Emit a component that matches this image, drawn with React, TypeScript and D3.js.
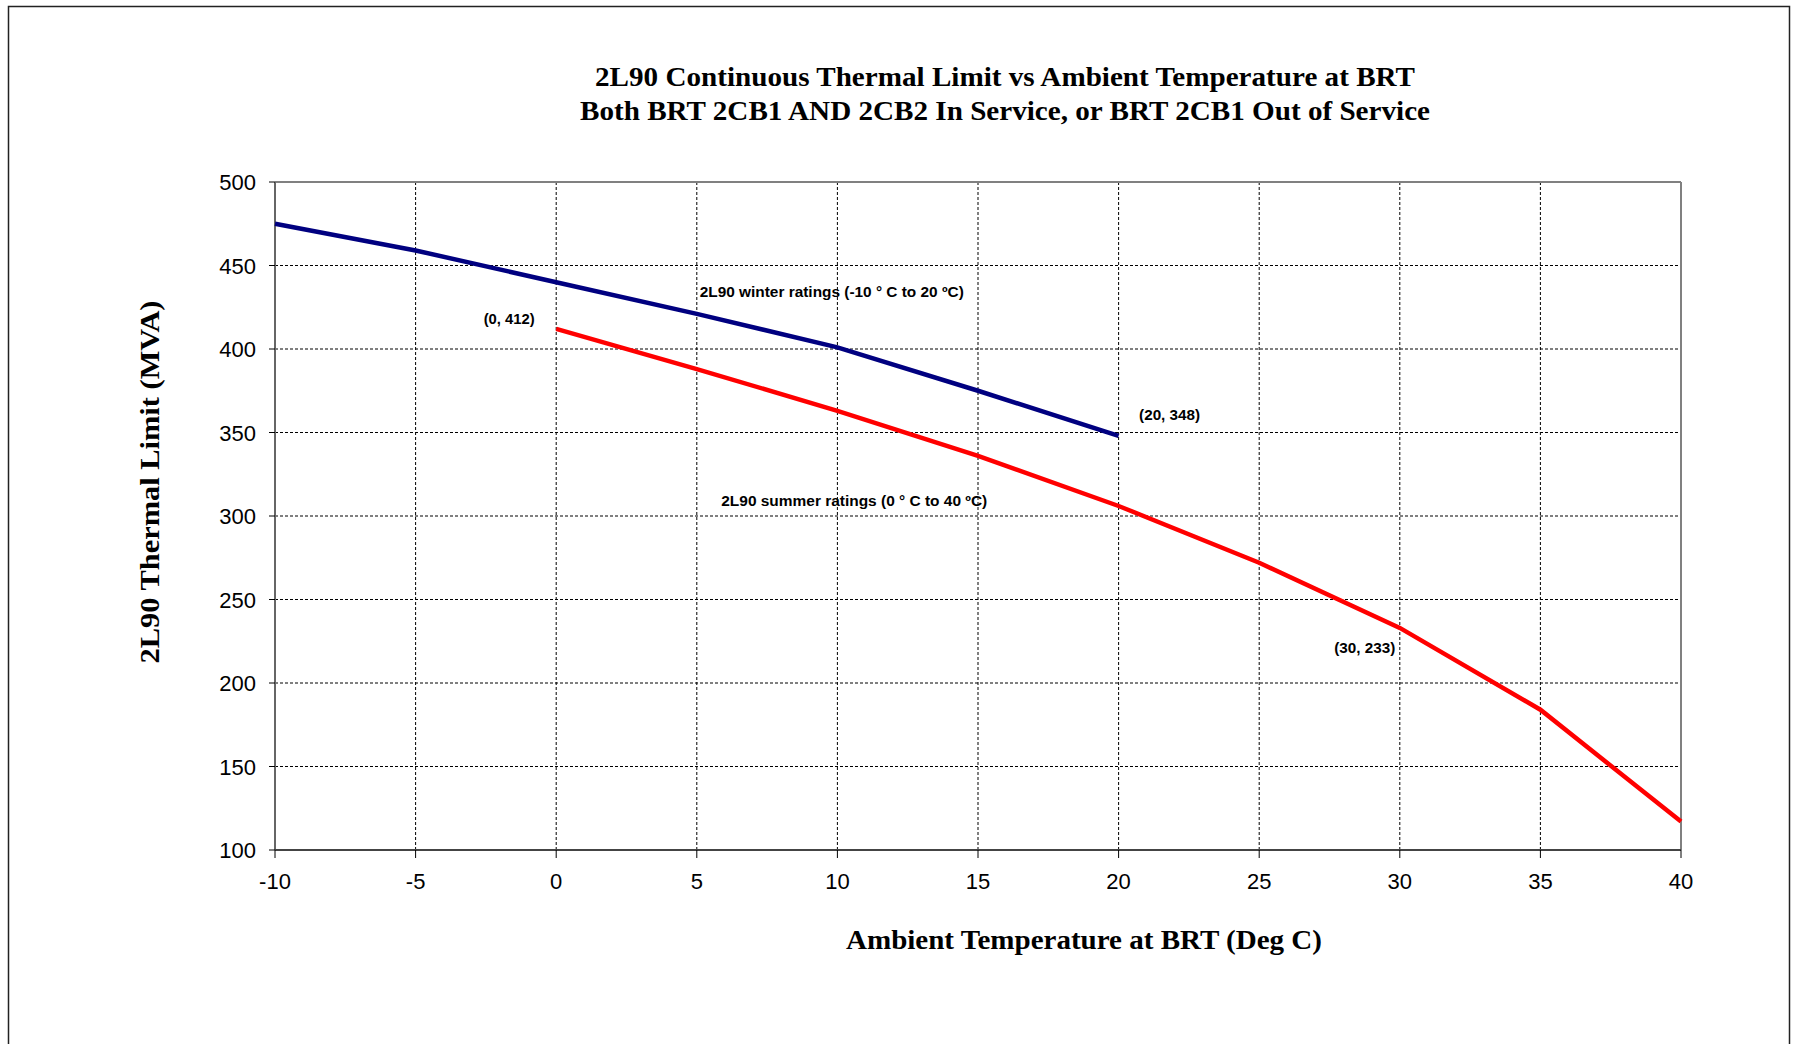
import React from "react";
import * as d3 from "d3";

const xTicks = [-10, -5, 0, 5, 10, 15, 20, 25, 30, 35, 40];
const yTicks = [100, 150, 200, 250, 300, 350, 400, 450, 500];

const winterTemps = [-10, -5, 0, 5, 10, 15, 20];
const winterMVA = [475, 459, 440, 421, 401, 375, 348];

const summerTemps = [0, 5, 10, 15, 20, 25, 30, 35, 40];
const summerMVA = [412, 388, 363, 336, 306, 272, 233, 184, 117];

const titleLines = [
  "2L90 Continuous  Thermal Limit vs Ambient Temperature at BRT",
  "Both BRT 2CB1 AND 2CB2 In Service, or BRT 2CB1 Out of Service",
];
const xTitle = "Ambient Temperature at BRT (Deg C)";
const yTitle = "2L90 Thermal Limit (MVA)";

const annotationTexts = [
  "(0, 412)",
  "2L90 winter ratings (-10 \u00b0 C to 20 \u00baC)",
  "(20,  348)",
  "2L90 summer ratings (0 \u00b0 C to 40 \u00baC)",
  "(30,  233)",
];
const annotationLens = [51, 264, 61, 266, 61];

export default function App() {
  const W = 1801;
  const H = 1044;
  const left = 275;
  const right = 1681;
  const top = 182;
  const bottom = 850;

  const x = d3.scaleLinear().domain([-10, 40]).range([left, right]);
  const y = d3.scaleLinear().domain([100, 500]).range([bottom, top]);

  const line = d3
    .line<[number, number]>()
    .x((d) => x(d[0]))
    .y((d) => y(d[1]));

  const winter = winterTemps.map((t, i) => [t, winterMVA[i]] as [number, number]);
  const summer = summerTemps.map((t, i) => [t, summerMVA[i]] as [number, number]);

  const sans = "'Liberation Sans', Arial, sans-serif";
  const serif = "'Liberation Serif', 'Times New Roman', serif";

  const annPos = [
    { px: x(0) - 47, py: 324 },
    { px: x(9.8), py: 297 },
    { px: x(20) + 51, py: 420 },
    { px: x(10.6), py: 506 },
    { px: x(30) - 35, py: 653 },
  ];

  return (
    <div style={{ position: "absolute", left: 0, top: 0 }}>
      <svg width={W} height={H} style={{ display: "block", background: "#fff" }}>
        <rect x={8.5} y={6.5} width={1781} height={1060} fill="#fff" stroke="#222" strokeWidth={1.5} />

        {/* title */}
        <text fontFamily={serif} fontWeight="bold" fontSize={28} textAnchor="middle" fill="#000">
          <tspan x={1005} y={86} textLength={820} lengthAdjust="spacingAndGlyphs">{titleLines[0]}</tspan>
        </text>
        <text fontFamily={serif} fontWeight="bold" fontSize={28} textAnchor="middle" fill="#000">
          <tspan x={1005} y={120} textLength={850} lengthAdjust="spacingAndGlyphs">{titleLines[1]}</tspan>
        </text>

        {/* grid */}
        {xTicks.slice(1, -1).map((t) => (
          <line key={"gx" + t} x1={x(t)} x2={x(t)} y1={top} y2={bottom} stroke="#000" strokeWidth={1} strokeDasharray="3,2" />
        ))}
        {yTicks.slice(1, -1).map((t) => (
          <line key={"gy" + t} x1={left} x2={right} y1={y(t)} y2={y(t)} stroke="#000" strokeWidth={1} strokeDasharray="3,2" />
        ))}

        {/* plot frame */}
        <line x1={left} x2={right} y1={top} y2={top} stroke="#808080" strokeWidth={2} />
        <line x1={right} x2={right} y1={top} y2={bottom} stroke="#808080" strokeWidth={2} />
        <line x1={left} x2={left} y1={top} y2={bottom} stroke="#666" strokeWidth={2} />
        <line x1={left} x2={right} y1={bottom} y2={bottom} stroke="#444" strokeWidth={2} />

        {/* ticks */}
        {xTicks.map((t) => (
          <g key={"xt" + t}>
            <line x1={x(t)} x2={x(t)} y1={bottom} y2={bottom + 8} stroke="#000" strokeWidth={1} />
            <text x={x(t)} y={889} textAnchor="middle" fontFamily={sans} fontSize={22} fill="#000">
              {t}
            </text>
          </g>
        ))}
        {yTicks.map((t) => (
          <g key={"yt" + t}>
            <line x1={left - 6} x2={left} y1={y(t)} y2={y(t)} stroke="#000" strokeWidth={1} />
            <text x={256} y={y(t) + 8} textAnchor="end" fontFamily={sans} fontSize={22} fill="#000">
              {t}
            </text>
          </g>
        ))}

        {/* series */}
        <path d={line(summer) || ""} fill="none" stroke="#ff0000" strokeWidth={4.5} />
        <path d={line(winter) || ""} fill="none" stroke="#000080" strokeWidth={4.5} />

        {/* annotations */}
        {annotationTexts.map((txt, i) => (
          <text key={"an" + i} fontFamily={sans} fontWeight="bold" fontSize={14} textAnchor="middle" fill="#000">
            <tspan x={annPos[i].px} y={annPos[i].py} textLength={annotationLens[i]} lengthAdjust="spacingAndGlyphs">
              {txt}
            </tspan>
          </text>
        ))}

        {/* axis titles */}
        <text fontFamily={serif} fontWeight="bold" fontSize={28} textAnchor="middle" fill="#000">
          <tspan x={1084} y={949} textLength={476} lengthAdjust="spacingAndGlyphs">{xTitle}</tspan>
        </text>
        <g transform={`translate(159, 482) rotate(-90)`}>
          <text fontFamily={serif} fontWeight="bold" fontSize={28} textAnchor="middle" fill="#000">
            <tspan x={0} y={0} textLength={363} lengthAdjust="spacingAndGlyphs">{yTitle}</tspan>
          </text>
        </g>
      </svg>
    </div>
  );
}
